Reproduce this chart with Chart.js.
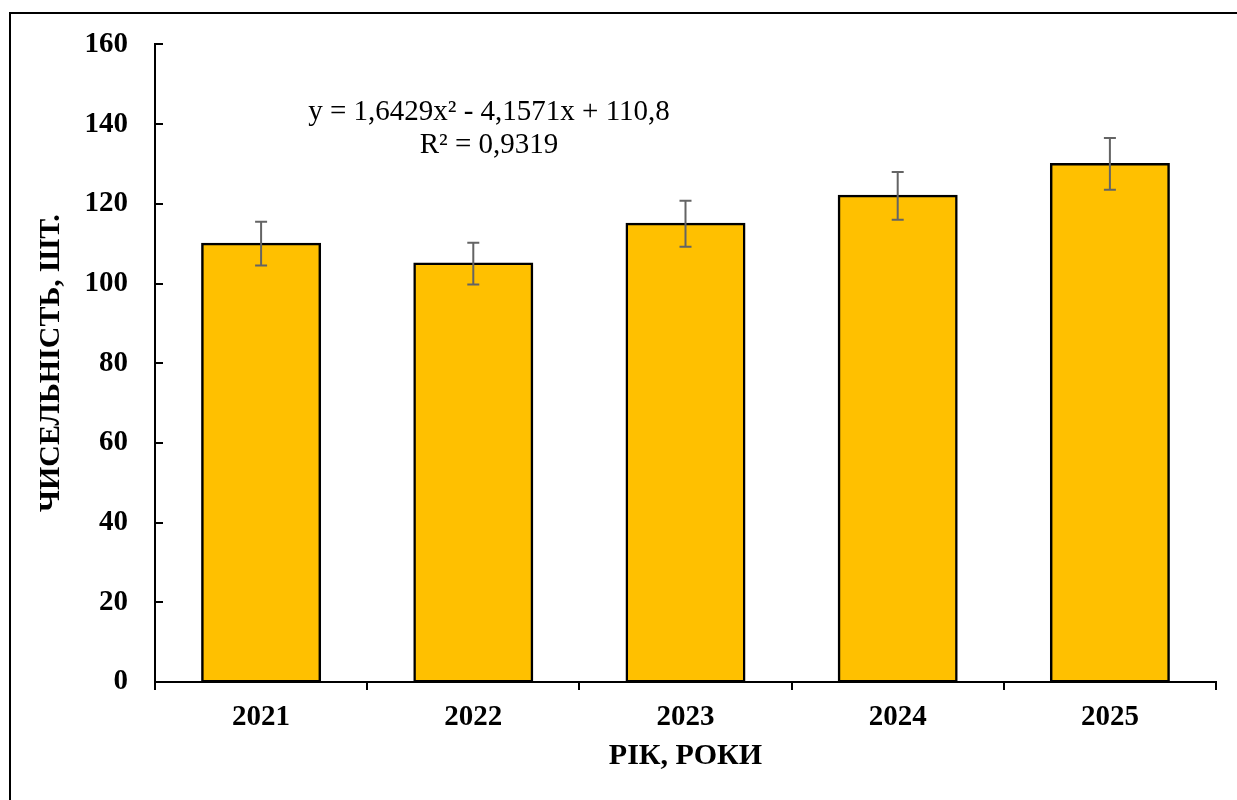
<!DOCTYPE html>
<html>
<head>
<meta charset="utf-8">
<script src="https://cdn.jsdelivr.net/npm/chart.js@4"></script>
<style>
  html, body { margin: 0; padding: 0; background: #fff; overflow: hidden; }
  #wrap { position: relative; width: 1237px; height: 800px; }
  #frame {
    position: absolute; left: 9px; top: 12px; width: 2000px; height: 2000px;
    border: 2px solid #000; pointer-events: none;
  }
</style>
</head>
<body>
<div id="wrap">
  <canvas id="chart" width="1237" height="800"></canvas>
  <div id="frame"></div>
</div>
<script>
// data
const years = ['2021', '2022', '2023', '2024', '2025'];
const counts = [110, 105, 115, 122, 130];
const errors = [5.5, 5.25, 5.75, 6, 6.5];
const yTicks = [0, 20, 40, 60, 80, 100, 120, 140, 160];
const trendLines = ['y = 1,6429x² - 4,1571x + 110,8', 'R² = 0,9319'];

document.addEventListener('DOMContentLoaded', () => {
    const serif = "'Liberation Serif', 'Times New Roman', serif";

    // error bars on top of every bar
    const errorBars = {
        id: 'errorBars',
        afterDatasetsDraw(chart) {
            const { ctx } = chart;
            const yScale = chart.scales.y;
            const meta = chart.getDatasetMeta(0);
            ctx.save();
            ctx.strokeStyle = '#646464';
            ctx.lineWidth = 2;
            meta.data.forEach((bar, i) => {
                const x = bar.x;
                const hi = yScale.getPixelForValue(counts[i] + errors[i]);
                const lo = yScale.getPixelForValue(counts[i] - errors[i]);
                ctx.beginPath();
                ctx.moveTo(x, hi); ctx.lineTo(x, lo);
                ctx.moveTo(x - 6, hi); ctx.lineTo(x + 6, hi);
                ctx.moveTo(x - 6, lo); ctx.lineTo(x + 6, lo);
                ctx.stroke();
            });
            ctx.restore();
        }
    };

    // inward tick marks on the y axis + trendline equation
    const extras = {
        id: 'extras',
        afterDraw(chart) {
            const { ctx } = chart;
            const yScale = chart.scales.y;
            const left = chart.chartArea.left;
            ctx.save();
            ctx.strokeStyle = '#000';
            ctx.lineWidth = 2;
            yTicks.forEach(v => {
                const y = Math.round(yScale.getPixelForValue(v));
                ctx.beginPath();
                ctx.moveTo(left, y);
                ctx.lineTo(left + 8, y);
                ctx.stroke();
            });

            ctx.fillStyle = '#000';
            ctx.font = '29px ' + serif;
            ctx.textAlign = 'center';
            ctx.textBaseline = 'middle';
            ctx.fillText(trendLines[0], 489, 112);
            ctx.fillText(trendLines[1], 489, 145);
            ctx.restore();
        }
    };

    new Chart(document.getElementById('chart'), {
        type: 'bar',
        data: {
            labels: years,
            datasets: [{
                data: counts,
                backgroundColor: '#FFC000',
                borderColor: '#000',
                borderWidth: 2.5,
                borderSkipped: false,
                inflateAmount: 1,
                categoryPercentage: 1,
                barPercentage: 0.556
            }]
        },
        options: {
            responsive: false,
            animation: false,
            layout: { padding: { left: 0, top: 42, right: 21, bottom: 0 } },
            plugins: {
                legend: { display: false },
                tooltip: { enabled: false }
            },
            scales: {
                x: {
                    afterFit(scale) { scale.height = 118; },
                    grid: {
                        drawOnChartArea: false,
                        drawTicks: true,
                        tickLength: 8,
                        color: '#000',
                        lineWidth: 2,
                        offset: true
                    },
                    border: { color: '#000', width: 2 },
                    ticks: {
                        color: '#000',
                        padding: 10,
                        font: { family: serif, size: 29, weight: 'bold' }
                    },
                    title: {
                        display: true,
                        text: 'РІК, РОКИ',
                        color: '#000',
                        padding: { top: 0, bottom: 26 },
                        font: { family: serif, size: 30, weight: 'bold' }
                    }
                },
                y: {
                    min: 0,
                    max: 160,
                    afterFit(scale) { scale.width = 155; },
                    afterBuildTicks(scale) {
                        scale.ticks = yTicks.map(v => ({ value: v }));
                    },
                    grid: { display: true, drawOnChartArea: false, drawTicks: false },
                    border: { color: '#000', width: 2 },
                    ticks: {
                        color: '#000',
                        padding: 27,
                        font: { family: serif, size: 29, weight: 'bold' }
                    },
                    title: {
                        display: true,
                        text: 'ЧИСЕЛЬНІСТЬ, ШТ.',
                        color: '#000',
                        padding: { top: 33, bottom: 0 },
                        font: { family: serif, size: 30, weight: 'bold' }
                    }
                }
            }
        },
        plugins: [errorBars, extras]
    });
});
</script>
</body>
</html>
